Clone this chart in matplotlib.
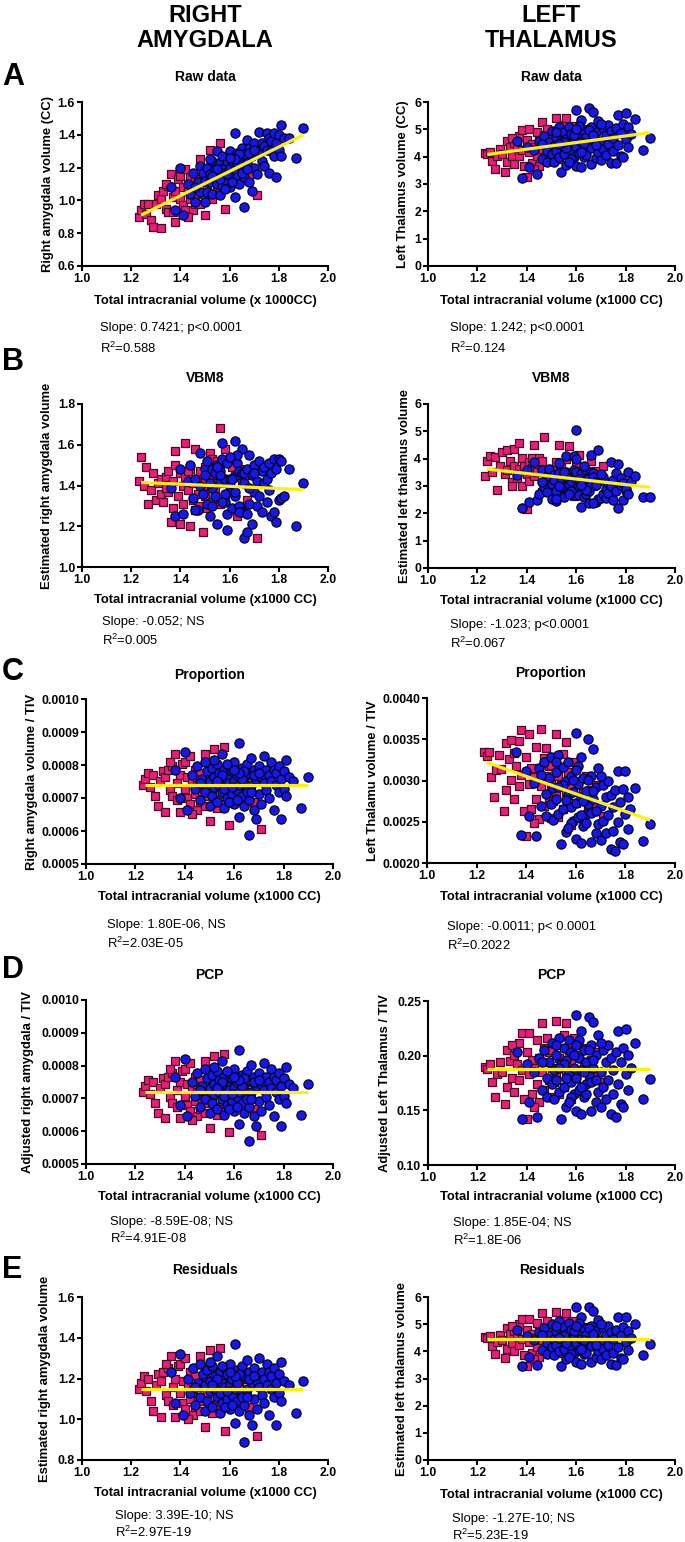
import numpy as np
import matplotlib
matplotlib.use("Agg")
import matplotlib.pyplot as plt
from matplotlib.ticker import FormatStrFormatter

# ---------------- data ----------------
# total intracranial volume (x1000 CC), same subjects in every panel
pink_tiv = [1.23, 1.24, 1.25, 1.26, 1.27, 1.28, 1.29, 1.30, 1.31, 1.32,
            1.32, 1.33, 1.34, 1.35, 1.35, 1.36, 1.37, 1.37, 1.38, 1.38,
            1.39, 1.40, 1.40, 1.41, 1.41, 1.42, 1.42, 1.43, 1.44, 1.44,
            1.45, 1.45, 1.46, 1.46, 1.47, 1.47, 1.48, 1.48, 1.49, 1.49,
            1.50, 1.50, 1.51, 1.51, 1.52, 1.52, 1.53, 1.53, 1.54, 1.55,
            1.55, 1.56, 1.56, 1.57, 1.58, 1.58, 1.59, 1.60, 1.61, 1.62,
            1.63, 1.64, 1.65, 1.66, 1.67, 1.68, 1.34, 1.43, 1.50, 1.71]
blue_tiv = [1.36, 1.38, 1.40, 1.41, 1.43, 1.44, 1.45, 1.46, 1.47, 1.48,
            1.48, 1.49, 1.50, 1.50, 1.51, 1.51, 1.52, 1.52, 1.53, 1.53,
            1.54, 1.54, 1.55, 1.55, 1.56, 1.56, 1.57, 1.57, 1.58, 1.58,
            1.59, 1.59, 1.60, 1.60, 1.60, 1.61, 1.61, 1.62, 1.62, 1.62,
            1.63, 1.63, 1.64, 1.64, 1.65, 1.65, 1.66, 1.66, 1.66, 1.67,
            1.67, 1.68, 1.68, 1.69, 1.69, 1.70, 1.70, 1.71, 1.71, 1.72,
            1.72, 1.73, 1.73, 1.74, 1.74, 1.75, 1.75, 1.76, 1.76, 1.77,
            1.77, 1.78, 1.78, 1.79, 1.79, 1.80, 1.80, 1.81, 1.81, 1.82,
            1.84, 1.87, 1.90, 1.46, 1.52, 1.56, 1.58, 1.63, 1.65, 1.68,
            1.55, 1.57, 1.61, 1.64, 1.59, 1.62, 1.67, 1.70, 1.53, 1.60]

# right amygdala
amy_raw_pink = [0.90, 0.94, 0.98, 0.92, 0.98, 0.88, 0.84, 0.98, 1.03, 0.83,
                1.01, 1.06, 0.95, 1.09, 0.93, 1.16, 1.02, 0.93, 0.87, 1.06,
                1.13, 1.01, 1.15, 0.97, 1.08, 1.19, 0.94, 1.07, 1.01, 1.14,
                0.94, 1.07, 1.13, 0.98, 1.11, 1.04, 1.25, 0.98, 1.11, 1.04,
                0.91, 1.17, 1.09, 1.15, 1.31, 1.04, 1.13, 1.01, 1.18, 1.09,
                1.23, 1.35, 1.05, 1.18, 0.95, 1.22, 1.14, 1.22, 1.12, 1.22,
                1.16, 1.22, 1.15, 1.27, 1.21, 1.15, 1.10, 0.90, 1.20, 1.03]
amy_raw_blue = [1.08, 0.94, 1.20, 0.91, 1.10, 1.04, 1.17, 0.99, 1.11, 1.21,
                1.05, 1.17, 0.99, 1.12, 1.20, 1.05, 1.16, 1.11, 1.24, 1.04,
                1.19, 1.13, 1.30, 1.10, 1.23, 1.03, 1.19, 1.09, 1.26, 1.17,
                1.12, 1.24, 1.30, 1.08, 1.20, 1.24, 1.16, 1.41, 1.02, 1.19,
                1.29, 1.14, 1.25, 1.10, 1.32, 1.19, 0.96, 1.28, 1.14, 1.37,
                1.23, 1.11, 1.32, 1.06, 1.27, 1.35, 1.20, 1.30, 1.16, 1.42,
                1.28, 1.24, 1.35, 1.33, 1.21, 1.41, 1.31, 1.17, 1.38, 1.30,
                1.36, 1.27, 1.41, 1.14, 1.35, 1.40, 1.31, 1.46, 1.27, 1.38,
                1.38, 1.26, 1.44, 1.08, 1.25, 1.13, 1.07, 1.23, 1.17, 1.29,
                1.19, 1.27, 1.11, 1.28, 1.16, 1.25, 1.19, 1.31, 1.15, 1.26]
amy_vbm_pink = [1.42, 1.54, 1.40, 1.49, 1.31, 1.38, 1.46, 1.33, 1.41, 1.36,
                1.43, 1.32, 1.44, 1.37, 1.47, 1.22, 1.42, 1.29, 1.57, 1.50,
                1.35, 1.46, 1.21, 1.40, 1.31, 1.61, 1.44, 1.38, 1.48, 1.20,
                1.33, 1.41, 1.28, 1.58, 1.36, 1.43, 1.30, 1.47, 1.40, 1.17,
                1.49, 1.35, 1.42, 1.29, 1.56, 1.44, 1.32, 1.53, 1.38, 1.52,
                1.45, 1.68, 1.31, 1.41, 1.58, 1.33, 1.51, 1.37, 1.49, 1.44,
                1.25, 1.48, 1.42, 1.28, 1.33, 1.45, 1.39, 1.47, 1.43, 1.14]
amy_vbm_blue = [1.39, 1.25, 1.48, 1.26, 1.42, 1.50, 1.34, 1.43, 1.28, 1.56,
                1.40, 1.36, 1.48, 1.45, 1.31, 1.52, 1.41, 1.25, 1.48, 1.39,
                1.46, 1.35, 1.50, 1.21, 1.42, 1.47, 1.61, 1.53, 1.32, 1.43,
                1.18, 1.26, 1.43, 1.40, 1.53, 1.37, 1.29, 1.62, 1.35, 1.45,
                1.45, 1.51, 1.30, 1.47, 1.58, 1.46, 1.14, 1.46, 1.41, 1.48,
                1.17, 1.31, 1.55, 1.21, 1.45, 1.37, 1.50, 1.30, 1.42, 1.52,
                1.35, 1.47, 1.27, 1.41, 1.49, 1.32, 1.43, 1.38, 1.51, 1.25,
                1.46, 1.27, 1.53, 1.22, 1.48, 1.33, 1.53, 1.34, 1.52, 1.35,
                1.48, 1.20, 1.41, 1.28, 1.41, 1.45, 1.36, 1.55, 1.27, 1.39,
                1.49, 1.32, 1.43, 1.27, 1.51, 1.37, 1.26, 1.46, 1.30, 1.54]
amy_prop_pink = [7.40e-4, 7.57e-4, 7.75e-4, 7.34e-4, 7.69e-4, 7.05e-4, 6.76e-4, 7.52e-4, 7.81e-4, 6.59e-4,
                 7.63e-4, 7.86e-4, 7.23e-4, 7.98e-4, 7.05e-4, 8.33e-4, 7.46e-4, 6.94e-4, 6.59e-4, 7.69e-4,
                 8.04e-4, 7.28e-4, 8.10e-4, 6.99e-4, 7.63e-4, 8.27e-4, 6.82e-4, 7.52e-4, 7.11e-4, 7.86e-4,
                 6.65e-4, 7.40e-4, 7.75e-4, 6.88e-4, 7.57e-4, 7.17e-4, 8.33e-4, 6.76e-4, 7.46e-4, 7.05e-4,
                 6.30e-4, 7.81e-4, 7.28e-4, 7.63e-4, 8.50e-4, 6.94e-4, 7.40e-4, 6.70e-4, 7.69e-4, 7.11e-4,
                 7.92e-4, 8.56e-4, 6.82e-4, 7.52e-4, 6.18e-4, 7.75e-4, 7.23e-4, 7.63e-4, 6.99e-4, 7.57e-4,
                 7.17e-4, 7.46e-4, 7.05e-4, 7.69e-4, 7.28e-4, 6.88e-4, 8.10e-4, 6.53e-4, 7.98e-4, 6.07e-4]
amy_prop_blue = [7.86e-4, 6.99e-4, 8.39e-4, 6.65e-4, 7.69e-4, 7.28e-4, 7.98e-4, 6.94e-4, 7.57e-4, 8.10e-4,
                 7.17e-4, 7.81e-4, 6.76e-4, 7.52e-4, 7.92e-4, 7.05e-4, 7.63e-4, 7.34e-4, 8.04e-4, 6.88e-4,
                 7.75e-4, 7.40e-4, 8.33e-4, 7.17e-4, 7.86e-4, 6.70e-4, 7.57e-4, 6.99e-4, 7.98e-4, 7.46e-4,
                 7.11e-4, 7.81e-4, 8.10e-4, 6.82e-4, 7.52e-4, 7.69e-4, 7.23e-4, 8.68e-4, 6.41e-4, 7.40e-4,
                 7.92e-4, 7.05e-4, 7.63e-4, 6.76e-4, 8.04e-4, 7.28e-4, 5.89e-4, 7.75e-4, 6.94e-4, 8.21e-4,
                 7.40e-4, 6.65e-4, 7.86e-4, 6.36e-4, 7.57e-4, 7.98e-4, 7.11e-4, 7.63e-4, 6.82e-4, 8.27e-4,
                 7.46e-4, 7.23e-4, 7.86e-4, 7.69e-4, 6.99e-4, 8.10e-4, 7.52e-4, 6.65e-4, 7.86e-4, 7.40e-4,
                 7.75e-4, 7.17e-4, 7.98e-4, 6.36e-4, 7.57e-4, 7.81e-4, 7.28e-4, 8.15e-4, 7.05e-4, 7.63e-4,
                 7.52e-4, 6.70e-4, 7.63e-4, 7.46e-4, 8.15e-4, 7.28e-4, 6.88e-4, 7.57e-4, 7.17e-4, 7.69e-4,
                 7.69e-4, 8.04e-4, 6.94e-4, 7.81e-4, 7.34e-4, 7.75e-4, 7.17e-4, 7.75e-4, 7.52e-4, 7.86e-4]
amy_pcp_pink = [7.20e-4, 7.37e-4, 7.55e-4, 7.14e-4, 7.49e-4, 6.85e-4, 6.56e-4, 7.32e-4, 7.61e-4, 6.39e-4,
                7.43e-4, 7.66e-4, 7.03e-4, 7.78e-4, 6.85e-4, 8.13e-4, 7.26e-4, 6.74e-4, 6.39e-4, 7.49e-4,
                7.84e-4, 7.08e-4, 7.90e-4, 6.79e-4, 7.43e-4, 8.07e-4, 6.62e-4, 7.32e-4, 6.91e-4, 7.66e-4,
                6.45e-4, 7.20e-4, 7.55e-4, 6.68e-4, 7.37e-4, 6.97e-4, 8.13e-4, 6.56e-4, 7.26e-4, 6.85e-4,
                6.10e-4, 7.61e-4, 7.08e-4, 7.43e-4, 8.30e-4, 6.74e-4, 7.20e-4, 6.50e-4, 7.49e-4, 6.91e-4,
                7.72e-4, 8.36e-4, 6.62e-4, 7.32e-4, 5.98e-4, 7.55e-4, 7.03e-4, 7.43e-4, 6.79e-4, 7.37e-4,
                6.97e-4, 7.26e-4, 6.85e-4, 7.49e-4, 7.08e-4, 6.68e-4, 7.90e-4, 6.33e-4, 7.78e-4, 5.87e-4]
amy_pcp_blue = [7.66e-4, 6.79e-4, 8.19e-4, 6.45e-4, 7.49e-4, 7.08e-4, 7.78e-4, 6.74e-4, 7.37e-4, 7.90e-4,
                6.97e-4, 7.61e-4, 6.56e-4, 7.32e-4, 7.72e-4, 6.85e-4, 7.43e-4, 7.14e-4, 7.84e-4, 6.68e-4,
                7.55e-4, 7.20e-4, 8.13e-4, 6.97e-4, 7.66e-4, 6.50e-4, 7.37e-4, 6.79e-4, 7.78e-4, 7.26e-4,
                6.91e-4, 7.61e-4, 7.90e-4, 6.62e-4, 7.32e-4, 7.49e-4, 7.03e-4, 8.48e-4, 6.21e-4, 7.20e-4,
                7.72e-4, 6.85e-4, 7.43e-4, 6.56e-4, 7.84e-4, 7.08e-4, 5.69e-4, 7.55e-4, 6.74e-4, 8.01e-4,
                7.20e-4, 6.45e-4, 7.66e-4, 6.16e-4, 7.37e-4, 7.78e-4, 6.91e-4, 7.43e-4, 6.62e-4, 8.07e-4,
                7.26e-4, 7.03e-4, 7.66e-4, 7.49e-4, 6.79e-4, 7.90e-4, 7.32e-4, 6.45e-4, 7.66e-4, 7.20e-4,
                7.55e-4, 6.97e-4, 7.78e-4, 6.16e-4, 7.37e-4, 7.61e-4, 7.08e-4, 7.95e-4, 6.85e-4, 7.43e-4,
                7.32e-4, 6.50e-4, 7.43e-4, 7.26e-4, 7.95e-4, 7.08e-4, 6.68e-4, 7.37e-4, 6.97e-4, 7.49e-4,
                7.49e-4, 7.84e-4, 6.74e-4, 7.61e-4, 7.14e-4, 7.55e-4, 6.97e-4, 7.55e-4, 7.32e-4, 7.66e-4]
amy_res_pink = [1.15, 1.18, 1.21, 1.14, 1.20, 1.09, 1.04, 1.17, 1.22, 1.01,
                1.19, 1.23, 1.12, 1.25, 1.09, 1.31, 1.16, 1.07, 1.01, 1.20,
                1.26, 1.13, 1.27, 1.08, 1.19, 1.30, 1.05, 1.17, 1.10, 1.23,
                1.02, 1.15, 1.21, 1.06, 1.18, 1.11, 1.31, 1.04, 1.16, 1.09,
                0.96, 1.22, 1.13, 1.19, 1.34, 1.07, 1.15, 1.03, 1.20, 1.10,
                1.24, 1.35, 1.05, 1.17, 0.94, 1.21, 1.12, 1.19, 1.08, 1.18,
                1.11, 1.16, 1.09, 1.20, 1.13, 1.06, 1.27, 1.00, 1.25, 0.92]
amy_res_blue = [1.23, 1.08, 1.32, 1.02, 1.20, 1.13, 1.25, 1.07, 1.18, 1.27,
                1.11, 1.22, 1.04, 1.17, 1.24, 1.09, 1.19, 1.14, 1.26, 1.06,
                1.21, 1.15, 1.31, 1.11, 1.23, 1.03, 1.18, 1.08, 1.25, 1.16,
                1.10, 1.22, 1.27, 1.05, 1.17, 1.20, 1.12, 1.37, 0.98, 1.15,
                1.24, 1.09, 1.19, 1.04, 1.26, 1.13, 0.89, 1.21, 1.07, 1.29,
                1.15, 1.02, 1.23, 0.97, 1.18, 1.25, 1.10, 1.19, 1.05, 1.30,
                1.16, 1.12, 1.23, 1.20, 1.08, 1.27, 1.17, 1.02, 1.23, 1.15,
                1.21, 1.11, 1.25, 0.97, 1.18, 1.22, 1.13, 1.28, 1.09, 1.19,
                1.17, 1.03, 1.19, 1.16, 1.28, 1.13, 1.06, 1.18, 1.11, 1.20,
                1.20, 1.26, 1.07, 1.22, 1.14, 1.21, 1.11, 1.21, 1.17, 1.23]

# left thalamus
tha_raw_pink = [4.12, 4.09, 4.17, 3.83, 3.55, 4.01, 4.27, 4.08, 3.45, 4.56,
                3.81, 4.34, 4.03, 4.50, 3.75, 4.31, 4.77, 4.02, 4.98, 4.23,
                3.65, 3.26, 4.61, 5.02, 4.17, 4.48, 3.78, 4.35, 4.91, 4.01,
                4.57, 3.67, 5.28, 4.28, 4.80, 3.95, 4.51, 5.01, 4.17, 4.72,
                3.83, 4.43, 4.95, 4.15, 5.41, 4.31, 4.67, 3.92, 4.53, 5.15,
                4.10, 5.41, 4.46, 4.87, 3.88, 4.63, 5.14, 4.36, 4.82, 4.13,
                4.64, 5.01, 4.37, 4.78, 4.54, 4.96, 4.68, 3.55, 4.78, 4.39]
tha_raw_blue = [4.56, 3.23, 4.36, 3.62, 4.25, 3.36, 4.57, 3.93, 4.75, 4.21,
                3.81, 4.52, 4.08, 4.93, 4.40, 3.80, 4.71, 4.21, 5.07, 3.97,
                3.43, 4.53, 4.90, 4.10, 4.66, 3.71, 4.42, 5.07, 4.23, 4.83,
                3.99, 4.54, 5.71, 4.36, 3.66, 4.77, 4.12, 5.33, 3.63, 4.53,
                4.94, 3.99, 4.71, 4.26, 5.77, 4.47, 3.73, 5.08, 4.33, 5.64,
                4.64, 3.96, 4.91, 4.17, 5.32, 4.58, 3.88, 5.04, 4.29, 4.81,
                4.06, 5.17, 4.47, 3.78, 4.93, 4.69, 4.19, 3.76, 5.06, 5.52,
                4.42, 4.88, 4.03, 3.99, 5.19, 5.59, 4.66, 5.07, 4.37, 4.83,
                5.36, 4.24, 4.70, 4.48, 4.91, 4.31, 3.93, 4.49, 4.97, 4.41,
                4.55, 3.82, 5.12, 4.06, 4.79, 4.18, 4.79, 5.18, 4.47, 5.01]
tha_vbm_pink = [3.36, 3.90, 4.10, 3.53, 4.07, 2.85, 3.75, 4.24, 3.43, 4.30,
                3.57, 3.91, 3.15, 3.74, 4.34, 3.28, 4.57, 3.62, 4.01, 3.01,
                3.75, 2.15, 3.44, 3.88, 3.18, 3.67, 4.02, 3.36, 3.75, 3.50,
                3.89, 4.04, 2.77, 3.92, 4.80, 3.58, 3.53, 3.60, 3.24, 2.94,
                2.62, 3.63, 3.42, 2.77, 3.86, 3.11, 4.50, 3.30, 3.74, 2.98,
                3.53, 3.97, 3.22, 4.45, 3.40, 2.80, 2.65, 3.73, 4.12, 3.26,
                3.55, 2.84, 3.38, 3.92, 3.01, 3.55, 3.00, 4.51, 3.43, 3.72]
tha_vbm_blue = [3.42, 2.20, 3.58, 2.42, 3.87, 2.50, 2.69, 3.59, 2.98, 3.37,
                2.77, 3.64, 3.07, 2.51, 3.42, 3.22, 2.81, 2.45, 3.48, 3.84,
                2.95, 3.31, 2.62, 2.58, 3.53, 4.10, 3.08, 3.40, 2.83, 3.19,
                3.58, 2.66, 5.05, 3.25, 3.53, 3.00, 2.68, 3.07, 3.43, 2.25,
                3.18, 2.58, 3.57, 2.69, 3.32, 2.80, 4.12, 3.51, 3.11, 3.46,
                3.34, 2.40, 3.13, 2.52, 4.33, 2.55, 3.23, 2.70, 3.34, 2.89,
                2.57, 3.12, 2.76, 3.88, 2.99, 2.50, 3.22, 2.81, 3.49, 3.82,
                2.20, 3.03, 3.31, 2.50, 3.10, 2.80, 2.89, 3.52, 2.72, 3.19,
                3.35, 2.60, 2.58, 3.15, 2.53, 3.37, 2.83, 3.74, 2.36, 3.05,
                3.50, 2.72, 3.24, 2.85, 4.10, 3.03, 2.38, 3.43, 3.00, 3.97]
tha_prop_pink = [3.35e-3, 3.30e-3, 3.34e-3, 3.04e-3, 2.80e-3, 3.13e-3, 3.31e-3, 3.14e-3, 2.63e-3, 3.45e-3,
                 2.89e-3, 3.26e-3, 3.01e-3, 3.33e-3, 2.78e-3, 3.17e-3, 3.48e-3, 2.93e-3, 3.61e-3, 3.07e-3,
                 2.63e-3, 2.33e-3, 3.29e-3, 3.56e-3, 2.96e-3, 3.15e-3, 2.66e-3, 3.04e-3, 3.41e-3, 2.78e-3,
                 3.15e-3, 2.53e-3, 3.62e-3, 2.93e-3, 3.27e-3, 2.69e-3, 3.05e-3, 3.39e-3, 2.80e-3, 3.17e-3,
                 2.55e-3, 2.95e-3, 3.28e-3, 2.75e-3, 3.56e-3, 2.84e-3, 3.05e-3, 2.56e-3, 2.94e-3, 3.32e-3,
                 2.65e-3, 3.47e-3, 2.86e-3, 3.10e-3, 2.46e-3, 2.93e-3, 3.23e-3, 2.73e-3, 2.99e-3, 2.55e-3,
                 2.85e-3, 3.05e-3, 2.65e-3, 2.88e-3, 2.72e-3, 2.95e-3, 3.49e-3, 2.48e-3, 3.19e-3, 2.57e-3]
tha_prop_blue = [3.35e-3, 2.34e-3, 3.11e-3, 2.57e-3, 2.97e-3, 2.33e-3, 3.15e-3, 2.69e-3, 3.23e-3, 2.84e-3,
                 2.57e-3, 3.03e-3, 2.72e-3, 3.29e-3, 2.91e-3, 2.52e-3, 3.10e-3, 2.77e-3, 3.31e-3, 2.59e-3,
                 2.23e-3, 2.94e-3, 3.16e-3, 2.65e-3, 2.99e-3, 2.38e-3, 2.82e-3, 3.23e-3, 2.68e-3, 3.06e-3,
                 2.51e-3, 2.86e-3, 3.57e-3, 2.73e-3, 2.29e-3, 2.96e-3, 2.56e-3, 3.29e-3, 2.24e-3, 2.80e-3,
                 3.03e-3, 2.45e-3, 2.87e-3, 2.60e-3, 3.50e-3, 2.71e-3, 2.25e-3, 3.06e-3, 2.61e-3, 3.38e-3,
                 2.78e-3, 2.36e-3, 2.92e-3, 2.47e-3, 3.15e-3, 2.69e-3, 2.28e-3, 2.95e-3, 2.51e-3, 2.80e-3,
                 2.36e-3, 2.99e-3, 2.58e-3, 2.17e-3, 2.83e-3, 2.68e-3, 2.39e-3, 2.14e-3, 2.88e-3, 3.12e-3,
                 2.50e-3, 2.74e-3, 2.26e-3, 2.23e-3, 2.90e-3, 3.11e-3, 2.59e-3, 2.80e-3, 2.41e-3, 2.65e-3,
                 2.91e-3, 2.27e-3, 2.47e-3, 3.07e-3, 3.23e-3, 2.76e-3, 2.49e-3, 2.75e-3, 3.01e-3, 2.63e-3,
                 2.94e-3, 2.43e-3, 3.18e-3, 2.48e-3, 3.01e-3, 2.58e-3, 2.87e-3, 3.05e-3, 2.92e-3, 3.13e-3]
tha_pcp_pink = [0.190, 0.188, 0.192, 0.176, 0.162, 0.183, 0.194, 0.185, 0.156, 0.205,
                0.171, 0.195, 0.180, 0.201, 0.167, 0.192, 0.212, 0.178, 0.221, 0.187,
                0.160, 0.142, 0.203, 0.221, 0.183, 0.196, 0.165, 0.189, 0.214, 0.174,
                0.198, 0.158, 0.230, 0.185, 0.207, 0.169, 0.194, 0.216, 0.178, 0.203,
                0.162, 0.189, 0.212, 0.176, 0.232, 0.183, 0.198, 0.165, 0.192, 0.219,
                0.171, 0.230, 0.187, 0.205, 0.160, 0.194, 0.216, 0.180, 0.201, 0.169,
                0.192, 0.207, 0.178, 0.196, 0.185, 0.203, 0.210, 0.153, 0.205, 0.176]
tha_pcp_blue = [0.203, 0.142, 0.192, 0.158, 0.185, 0.144, 0.198, 0.169, 0.205, 0.180,
                0.162, 0.194, 0.174, 0.212, 0.187, 0.160, 0.201, 0.178, 0.216, 0.167,
                0.142, 0.192, 0.207, 0.171, 0.196, 0.153, 0.185, 0.214, 0.176, 0.203,
                0.165, 0.189, 0.237, 0.180, 0.149, 0.198, 0.169, 0.223, 0.147, 0.187,
                0.205, 0.162, 0.194, 0.174, 0.235, 0.183, 0.149, 0.210, 0.176, 0.231,
                0.189, 0.158, 0.201, 0.167, 0.219, 0.185, 0.153, 0.205, 0.171, 0.194,
                0.160, 0.210, 0.178, 0.147, 0.198, 0.187, 0.165, 0.144, 0.203, 0.223,
                0.174, 0.194, 0.156, 0.153, 0.207, 0.224, 0.183, 0.201, 0.169, 0.189,
                0.212, 0.160, 0.179, 0.194, 0.210, 0.180, 0.162, 0.185, 0.205, 0.178,
                0.192, 0.158, 0.214, 0.165, 0.201, 0.171, 0.196, 0.212, 0.189, 0.210]
tha_res_pink = [4.52, 4.48, 4.55, 4.20, 3.90, 4.35, 4.60, 4.40, 3.75, 4.85,
                4.10, 4.62, 4.30, 4.75, 4.00, 4.55, 5.00, 4.25, 5.20, 4.45,
                3.85, 3.45, 4.80, 5.20, 4.35, 4.65, 3.95, 4.50, 5.05, 4.15,
                4.70, 3.80, 5.40, 4.40, 4.90, 4.05, 4.60, 5.10, 4.25, 4.80,
                3.90, 4.50, 5.00, 4.20, 5.45, 4.35, 4.70, 3.95, 4.55, 5.15,
                4.10, 5.40, 4.45, 4.85, 3.85, 4.60, 5.10, 4.30, 4.75, 4.05,
                4.55, 4.90, 4.25, 4.65, 4.40, 4.80, 4.95, 3.70, 4.85, 4.20]
tha_res_blue = [4.80, 3.45, 4.55, 3.80, 4.40, 3.50, 4.70, 4.05, 4.85, 4.30,
                3.90, 4.60, 4.15, 5.00, 4.45, 3.85, 4.75, 4.25, 5.10, 4.00,
                3.45, 4.55, 4.90, 4.10, 4.65, 3.70, 4.40, 5.05, 4.20, 4.80,
                3.95, 4.50, 5.65, 4.30, 3.60, 4.70, 4.05, 5.25, 3.55, 4.45,
                4.85, 3.90, 4.60, 4.15, 5.65, 4.35, 3.60, 4.95, 4.20, 5.50,
                4.50, 3.80, 4.75, 4.00, 5.15, 4.40, 3.70, 4.85, 4.10, 4.60,
                3.85, 4.95, 4.25, 3.55, 4.70, 4.45, 3.95, 3.50, 4.80, 5.25,
                4.15, 4.60, 3.75, 3.70, 4.90, 5.28, 4.35, 4.75, 4.05, 4.50,
                5.00, 3.85, 4.27, 4.60, 4.95, 4.30, 3.90, 4.40, 4.85, 4.25,
                4.55, 3.80, 5.05, 3.95, 4.75, 4.10, 4.65, 5.00, 4.50, 4.95]

# regression line end points (x = 1.24 .. 1.90)
fit_x = [1.24, 1.90]
fit_amy_raw = [0.91, 1.40]
fit_amy_vbm = [1.415, 1.38]
fit_amy_prop = [7.40e-4, 7.40e-4]
fit_amy_pcp = [7.20e-4, 7.20e-4]
fit_amy_res = [1.15, 1.15]
fit_tha_raw = [4.08, 4.88]
fit_tha_vbm = [3.62, 2.95]
fit_tha_prop = [3.22e-3, 2.52e-3]
fit_tha_pcp = [0.188, 0.188]
fit_tha_res = [4.47, 4.47]

# ---------------- figure ----------------
W, H = 685, 1542
plt.rcParams['font.family'] = ['Liberation Sans', 'DejaVu Sans']
plt.rcParams['mathtext.fontset'] = 'custom'
plt.rcParams['mathtext.rm'] = 'Liberation Sans'
plt.rcParams['mathtext.it'] = 'Liberation Sans'

PINK, PINK_EDGE = '#EA1E7A', '#4A0A22'
BLUE, BLUE_EDGE = '#1616EE', '#05051E'
YELLOW = '#FFF200'

fig = plt.figure(figsize=(W / 100, H / 100), dpi=100)


def fx(x):
    return x / W


def fy(y):
    return 1 - y / H


def text(x, y, s, **kw):
    fig.text(fx(x), fy(y), s, **kw)


# box = (left, top, right, bottom) in pixels
panels = [
    # --- A ---
    dict(box=(82, 102, 328, 266), title="Raw data", ty=77, pink=amy_raw_pink, blue=amy_raw_blue,
         fit=fit_amy_raw, ylim=(0.6, 1.6), yt=[0.6, 0.8, 1.0, 1.2, 1.4, 1.6], fmt='%.1f',
         ylabel="Right amygdala volume (CC)", ylx=48, xlabel="Total intracranial volume (x 1000CC)",
         xly=301, sx=100, sy=328, ry=348, slope="Slope: 0.7421; p<0.0001", r2="0.588"),
    dict(box=(428, 102, 675, 266), title="Raw data", ty=77, pink=tha_raw_pink, blue=tha_raw_blue,
         fit=fit_tha_raw, ylim=(0, 6), yt=[0, 1, 2, 3, 4, 5, 6], fmt='%d',
         ylabel="Left Thalamus volume (CC)", ylx=403, xlabel="Total intracranial volume (x1000 CC)",
         xly=301, sx=450, sy=328, ry=348, slope="Slope: 1.242; p<0.0001", r2="0.124"),
    # --- B ---
    dict(box=(82, 404, 328, 567), title="VBM8", ty=378, pink=amy_vbm_pink, blue=amy_vbm_blue,
         fit=fit_amy_vbm, ylim=(1.0, 1.8), yt=[1.0, 1.2, 1.4, 1.6, 1.8], fmt='%.1f',
         ylabel="Estimated right amygdala volume", ylx=47, xlabel="Total intracranial volume (x1000 CC)",
         xly=600, sx=102, sy=622, ry=640, slope="Slope: -0.052; NS", r2="0.005"),
    dict(box=(428, 404, 675, 568), title="VBM8", ty=378, pink=tha_vbm_pink, blue=tha_vbm_blue,
         fit=fit_tha_vbm, ylim=(0, 6), yt=[0, 1, 2, 3, 4, 5, 6], fmt='%d',
         ylabel="Estimated left thalamus volume", ylx=405, xlabel="Total intracranial volume (x1000 CC)",
         xly=601, sx=450, sy=625, ry=643, slope="Slope: -1.023; p<0.0001", r2="0.067"),
    # --- C ---
    dict(box=(86, 699, 333, 864), title="Proportion", ty=675, pink=amy_prop_pink, blue=amy_prop_blue,
         fit=fit_amy_prop, ylim=(0.0005, 0.0010), yt=[0.0005, 0.0006, 0.0007, 0.0008, 0.0009, 0.0010],
         fmt='%.4f', ylabel="Right amygdala volume / TIV", ylx=32,
         xlabel="Total intracranial volume (x1000 CC)", xly=897, sx=107, sy=925, ry=943,
         slope="Slope: 1.80E-06, NS", r2="2.03E-05"),
    dict(box=(427, 698, 675, 863), title="Proportion", ty=673, pink=tha_prop_pink, blue=tha_prop_blue,
         fit=fit_tha_prop, ylim=(0.0020, 0.0040), yt=[0.0020, 0.0025, 0.0030, 0.0035, 0.0040],
         fmt='%.4f', ylabel="Left Thalamu volume / TIV", ylx=373,
         xlabel="Total intracranial volume (x1000 CC)", xly=897, sx=447, sy=927, ry=945,
         slope="Slope: -0.0011; p< 0.0001", r2="0.2022"),
    # --- D ---
    dict(box=(86, 1000, 333, 1164), title="PCP", ty=975, pink=amy_pcp_pink, blue=amy_pcp_blue,
         fit=fit_amy_pcp, ylim=(0.0005, 0.0010), yt=[0.0005, 0.0006, 0.0007, 0.0008, 0.0009, 0.0010],
         fmt='%.4f', ylabel="Adjusted right amygdala / TIV", ylx=28,
         xlabel="Total intracranial volume (x1000 CC)", xly=1197, sx=110, sy=1222, ry=1238,
         slope="Slope: -8.59E-08; NS", r2="4.91E-08"),
    dict(box=(428, 1001, 675, 1165), title="PCP", ty=975, pink=tha_pcp_pink, blue=tha_pcp_blue,
         fit=fit_tha_pcp, ylim=(0.10, 0.25), yt=[0.10, 0.15, 0.20, 0.25], fmt='%.2f',
         ylabel="Adjusted Left Thalamus / TIV", ylx=385,
         xlabel="Total intracranial volume (x1000 CC)", xly=1197, sx=453, sy=1223, ry=1240,
         slope="Slope: 1.85E-04; NS", r2="1.8E-06"),
    # --- E ---
    dict(box=(82, 1297, 328, 1460), title="Residuals", ty=1270, pink=amy_res_pink, blue=amy_res_blue,
         fit=fit_amy_res, ylim=(0.8, 1.6), yt=[0.8, 1.0, 1.2, 1.4, 1.6], fmt='%.1f',
         ylabel="Estimated right amygdala volume", ylx=45,
         xlabel="Total intracranial volume (x1000 CC)", xly=1493, sx=115, sy=1516, ry=1532,
         slope="Slope: 3.39E-10; NS", r2="2.97E-19"),
    dict(box=(428, 1297, 675, 1460), title="Residuals", ty=1270, pink=tha_res_pink, blue=tha_res_blue,
         fit=fit_tha_res, ylim=(0, 6), yt=[0, 1, 2, 3, 4, 5, 6], fmt='%d',
         ylabel="Estimated left thalamus volume", ylx=402,
         xlabel="Total intracranial volume (x1000 CC)", xly=1495, sx=452, sy=1519, ry=1535,
         slope="Slope: -1.27E-10; NS", r2="5.23E-19"),
]

for p in panels:
    l, t, r, b = p['box']
    ax = fig.add_axes([fx(l), fy(b), (r - l) / W, (b - t) / H])
    ax.scatter(pink_tiv, p['pink'], marker='s', s=34, c=PINK, edgecolors=PINK_EDGE,
               linewidths=0.9, zorder=3, clip_on=False)
    ax.scatter(blue_tiv, p['blue'], marker='o', s=44, c=BLUE, edgecolors=BLUE_EDGE,
               linewidths=0.9, zorder=4, clip_on=False)
    ax.plot(fit_x, p['fit'], color=YELLOW, lw=2.3, zorder=5, solid_capstyle='butt')

    ax.set_xlim(1.0, 2.0)
    ax.set_ylim(*p['ylim'])
    ax.set_xticks([1.0, 1.2, 1.4, 1.6, 1.8, 2.0])
    ax.set_yticks(p['yt'])
    ax.xaxis.set_major_formatter(FormatStrFormatter('%.1f'))
    ax.yaxis.set_major_formatter(FormatStrFormatter(p['fmt']))
    for side in ('top', 'right'):
        ax.spines[side].set_visible(False)
    for side in ('left', 'bottom'):
        ax.spines[side].set_linewidth(1.5)
    ax.tick_params(direction='out', length=3.5, width=1.5, pad=1.5, labelsize=8.8)
    for lab in ax.get_xticklabels() + ax.get_yticklabels():
        lab.set_fontweight('bold')
    ax.patch.set_alpha(0)

    cx = (l + r) / 2
    text(cx, p['ty'], p['title'], ha='center', va='center', fontsize=10, fontweight='bold')
    text(cx, p['xly'], p['xlabel'], ha='center', va='center', fontsize=9.4, fontweight='bold')
    text(p['ylx'], (t + b) / 2, p['ylabel'], ha='center', va='center', rotation=90,
         fontsize=9.4, fontweight='bold')
    text(p['sx'], p['sy'], p['slope'], ha='left', va='center', fontsize=9.4)
    text(p['sx'], p['ry'], "R$^{2}$=" + p['r2'], ha='left', va='center', fontsize=9.4)

# column headers and panel letters
text(205, 28, "RIGHT\nAMYGDALA", ha='center', va='center', fontsize=17,
     fontweight='bold', linespacing=1.15)
text(551, 28, "LEFT\nTHALAMUS", ha='center', va='center', fontsize=17,
     fontweight='bold', linespacing=1.15)
for letter, y in zip("ABCDE", [77, 362, 672, 970, 1270]):
    text(2, y, letter, ha='left', va='center', fontsize=22, fontweight='bold')

fig.savefig("out.png", dpi=100)
